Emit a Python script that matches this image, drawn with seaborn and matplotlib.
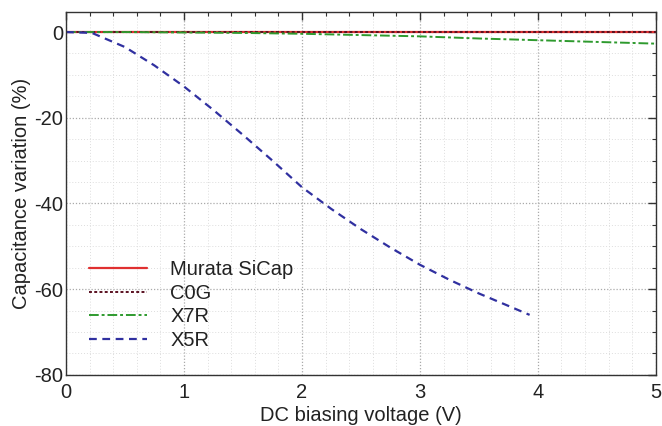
import matplotlib
matplotlib.use("Agg")
import matplotlib.pyplot as plt
import seaborn as sns
import pandas as pd
from matplotlib.ticker import MultipleLocator

# Data
v_flat = [0.0, 1.0, 2.0, 3.0, 4.0, 5.0]
murata = [0.0, 0.0, 0.0, 0.0, 0.0, 0.0]
c0g = [0.0, 0.0, 0.0, 0.0, 0.0, 0.0]
v_x7r = [0.0, 0.5, 1.0, 1.5, 2.0, 2.5, 3.0, 3.5, 4.0, 4.5, 5.0]
x7r = [0.0, 0.0, -0.1, -0.2, -0.4, -0.7, -1.0, -1.5, -1.9, -2.3, -2.7]
v_x5r = [0.0, 0.22, 0.5, 0.75, 1.0, 1.25, 1.5, 1.75, 2.0, 2.25, 2.5, 2.75, 3.0, 3.25, 3.5, 3.75, 3.93]
x5r = [0.0, -0.2, -3.5, -7.8, -12.7, -18.2, -24.0, -30.0, -36.2, -41.3, -46.0, -50.3, -54.3, -57.8, -61.0, -63.9, -66.0]

series = [
    ("Murata SiCap", v_flat, murata, "#e03030", "-", 1.6),
    ("C0G", v_flat, c0g, "#5a1020", (0, (1.5, 1.2)), 1.4),
    ("X7R", v_x7r, x7r, "#2e9a2e", (0, (5, 1.5, 1.5, 1.5)), 1.4),
    ("X5R", v_x5r, x5r, "#3030a0", (0, (3.5, 2.5)), 1.6),
]

sns.set_theme(style="white")
plt.rcParams['font.family'] = ['Liberation Sans', 'DejaVu Sans']

fig = plt.figure(figsize=(6.62, 4.26), dpi=100)
ax = fig.add_axes([0.0997, 0.12, 0.891, 0.852])

for name, xs, ys, col, ls, lw in series:
    df = pd.DataFrame({"x": xs, "y": ys})
    sns.lineplot(data=df, x="x", y="y", ax=ax, color=col, linestyle=ls,
                 linewidth=lw, label=name)

ax.set_xlim(0, 5)
ax.set_ylim(-80, 4.7)
ax.xaxis.set_major_locator(MultipleLocator(1))
ax.xaxis.set_minor_locator(MultipleLocator(0.2))
ax.yaxis.set_minor_locator(MultipleLocator(5))
ax.set_yticks([0, -20, -40, -60, -80])
ax.set_yticklabels(["0", "-20", "-40", "-60", "-80"])
ax.tick_params(which="both", direction="in", top=True, right=True, color="#333333")
ax.tick_params(which="major", length=6, width=1, labelsize=14.5, labelcolor="#222222")
ax.tick_params(axis="y", which="major", pad=2)
ax.tick_params(axis="x", which="major", pad=6)
ax.tick_params(which="minor", length=3, width=0.8)
ax.grid(which="major", linestyle=(0, (1, 1.5)), color="#aaaaaa", linewidth=0.9)
ax.grid(which="minor", linestyle=(0, (1, 2)), color="#dddddd", linewidth=0.7)
for s in ax.spines.values():
    s.set_color("#333333")
    s.set_linewidth(1.0)

ax.set_xlabel("DC biasing voltage (V)", fontsize=14.5, color="#222222", labelpad=3)
ax.set_ylabel("Capacitance variation (%)", fontsize=14.5, color="#222222", labelpad=2)

leg = ax.legend(loc="lower left", bbox_to_anchor=(0.008, 0.019), frameon=False,
                fontsize=14.5, handlelength=2.9, handletextpad=1.15, labelspacing=0.225)
for t in leg.get_texts():
    t.set_color("#222222")

fig.savefig("out.png", dpi=100)
